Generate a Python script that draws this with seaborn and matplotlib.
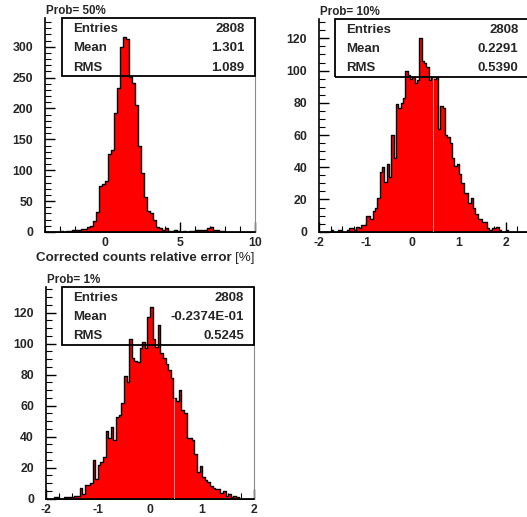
import numpy as np
import pandas as pd
import matplotlib
matplotlib.use("Agg")
import matplotlib.pyplot as plt
from matplotlib.patches import Rectangle
from matplotlib.ticker import MultipleLocator
import seaborn as sns

sns.set_theme(style="white")
plt.rcParams["font.family"] = ["Liberation Sans", "DejaVu Sans"]
plt.rcParams["font.weight"] = "bold"
plt.rcParams["axes.unicode_minus"] = False

# ---- Prob = 50% : 70 bins on [-4, 10] ----
p50_range = (-4.0, 10.0)
p50_counts = [
    0, 0, 0, 0, 0, 1, 0, 1, 2, 4,
    3, 3, 5, 5, 8, 9, 18, 32, 74, 77,
    82, 127, 132, 192, 233, 300, 315, 312, 251, 242,
    205, 139, 96, 56, 34, 30, 19, 8, 6, 3,
    6, 1, 1, 4, 1, 0, 1, 0, 1, 1,
    3, 4, 4, 3, 6, 8, 4, 3, 2, 1,
    0, 0, 0, 0, 0, 0, 0, 0, 0, 0,
]
p50_stats = ["2808", "1.301", "1.089"]

# ---- Prob = 10% : 90 bins on [-2, 2.5] ----
p10_range = (-2.0, 2.5)
p10_counts = [
    0, 0, 0, 0, 0, 1, 0, 0, 1, 1,
    0, 0, 1, 2, 2, 1, 3, 2, 4, 4,
    10, 10, 8, 13, 15, 21, 37, 40, 31, 42,
    34, 60, 46, 79, 77, 80, 83, 100, 97, 95,
    96, 92, 94, 120, 106, 105, 102, 94, 96, 95,
    96, 64, 78, 77, 60, 59, 55, 46, 41, 42,
    36, 30, 24, 24, 18, 21, 15, 11, 8, 8,
    6, 6, 2, 1, 2, 2, 3, 1, 0, 0,
    1, 0, 0, 0, 0, 0, 0, 0, 0, 0,
]
p10_stats = ["2808", "0.2291", "0.5390"]

# ---- Prob = 1% : 80 bins on [-2, 2] ----
p1_range = (-2.0, 2.0)
p1_counts = [
    0, 0, 0, 1, 1, 0, 0, 1, 1, 1,
    1, 2, 2, 7, 3, 9, 9, 10, 25, 13,
    22, 24, 27, 44, 39, 46, 38, 53, 54, 62,
    79, 75, 103, 91, 89, 88, 97, 101, 97, 117,
    124, 103, 98, 112, 94, 91, 87, 83, 78, 65,
    63, 70, 57, 55, 39, 39, 38, 29, 17, 21,
    14, 12, 11, 8, 7, 6, 6, 4, 5, 2,
    3, 1, 2, 1, 0, 0, 0, 0, 0, 0,
]
p1_stats = ["2808", "-0.2374E-01", "0.5245"]

stat_names = ["Entries", "Mean", "RMS"]
titles = ["Prob= 50%", "Prob= 10%", "Prob= 1%"]
xlabel_main = "Corrected counts relative error "
xlabel_unit = "[%]"

W, H = 527, 517
fig = plt.figure(figsize=(W / 100, H / 100), dpi=100)
fig.patch.set_facecolor("white")


def px_axes(left, top, right, bottom):
    return fig.add_axes([left / W, 1 - bottom / H, (right - left) / W, (bottom - top) / H])


def draw_hist(ax, rng, counts, xmajor, xminor, ymajor, yminor, seam=None):
    counts = np.asarray(counts, dtype=float)
    nb = len(counts)
    edges = np.linspace(rng[0], rng[1], nb + 1)
    centers = 0.5 * (edges[:-1] + edges[1:])
    df = pd.DataFrame({"x": centers, "n": counts})
    sns.histplot(data=df, x="x", weights="n", bins=nb, binrange=rng,
                 element="step", fill=True, color="#ff0000", alpha=1.0,
                 edgecolor="black", linewidth=1.0, ax=ax, legend=False,
                 zorder=2)
    if seam is not None:
        k = int(np.searchsorted(edges, seam, side="right") - 1)
        ax.vlines(seam, 0, counts[k], color="#ff8c8c", lw=0.7, zorder=3)
    ax.set_ylim(0, counts.max() * 1.1)
    ax.set_xlabel("")
    ax.set_ylabel("")
    ax.xaxis.set_major_locator(MultipleLocator(xmajor))
    ax.xaxis.set_minor_locator(MultipleLocator(xminor))
    ax.yaxis.set_major_locator(MultipleLocator(ymajor))
    ax.yaxis.set_minor_locator(MultipleLocator(yminor))
    ax.tick_params(which="major", direction="in", length=7, width=1.0,
                   color="black", labelsize=8.8,
                   left=True, bottom=True, right=False, top=False)
    ax.tick_params(which="minor", direction="in", length=4, width=0.8,
                   color="black", left=True, bottom=True, right=False, top=False)
    ax.tick_params(axis="y", which="major", pad=8.5)
    ax.tick_params(axis="x", which="major", pad=3.6)
    for lbl in ax.get_xticklabels() + ax.get_yticklabels():
        lbl.set_fontweight("bold")
    ax.spines["left"].set_color("black")
    ax.spines["bottom"].set_color("black")
    ax.spines["left"].set_linewidth(1.2)
    ax.spines["bottom"].set_linewidth(1.2)
    ax.spines["right"].set_color("#8a8a8a")
    ax.spines["right"].set_linewidth(0.8)
    ax.spines["top"].set_visible(False)
    ax.set_facecolor("white")


def stats_box(ax, values, x0):
    y0, h = 0.728, 0.272
    ax.add_patch(Rectangle((x0, y0), 1.0 - x0, h, transform=ax.transAxes,
                           fill=False, edgecolor="black", lw=1.3,
                           zorder=5, clip_on=False))
    for r, (name, val) in enumerate(zip(stat_names, values)):
        yy = y0 + h * (5 - 2 * r) / 6 - 0.005
        ax.text(x0 + 0.053, yy, name, transform=ax.transAxes, ha="left",
                va="center", fontsize=9.5, fontweight="bold", zorder=6)
        ax.text(0.95, yy, val, transform=ax.transAxes, ha="right",
                va="center", fontsize=9.5, fontweight="bold", zorder=6)


def title(ax, s):
    ax.text(0.005, 1.005, s, transform=ax.transAxes, ha="left", va="bottom",
            fontsize=8.4, fontweight="bold")


ax1 = px_axes(45, 18, 255, 232)
draw_hist(ax1, p50_range, p50_counts, 5, 1, 50, 10)
ax1.set_xlim(*p50_range)
stats_box(ax1, p50_stats, 0.08)
title(ax1, titles[0])

ax2 = px_axes(319, 19, 529, 231.7)
draw_hist(ax2, p10_range, p10_counts, 1, 0.25, 20, 5, seam=0.44)
ax2.set_xlim(*p10_range)
stats_box(ax2, p10_stats, 0.076)
title(ax2, titles[1])

ax3 = px_axes(45.7, 287.3, 254.3, 498.7)
draw_hist(ax3, p1_range, p1_counts, 1, 0.25, 20, 5, seam=0.46)
ax3.set_xlim(*p1_range)
stats_box(ax3, p1_stats, 0.08)
title(ax3, titles[2])

# x-axis title under the first panel, right-aligned to the axis end
ylab = -0.135
unit = ax1.text(1.0, ylab, xlabel_unit, transform=ax1.transAxes, ha="right",
                va="baseline", fontsize=9.6, fontweight="normal")
fig.canvas.draw()
uw = unit.get_window_extent(fig.canvas.get_renderer()).width
ax1.annotate(xlabel_main, xy=(1.0, ylab), xycoords="axes fraction",
             xytext=(-uw, 0), textcoords="offset pixels", ha="right",
             va="baseline", fontsize=9.6, fontweight="bold")

fig.savefig("out.png", dpi=100, facecolor="white")
